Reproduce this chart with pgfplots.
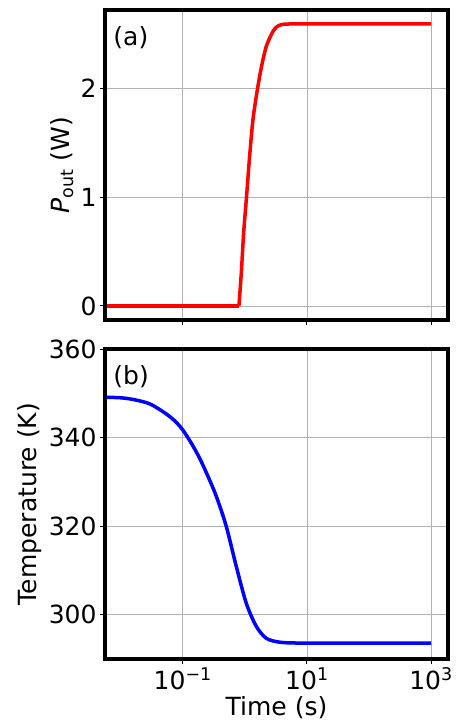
\documentclass[border=0pt]{standalone}
\usepackage{fontspec}
\setmainfont{DejaVu Sans}
\usepackage{pgfplots}
\pgfplotsset{compat=1.18}
\begin{document}
\begin{tikzpicture}
\useasboundingbox (-105pt,10pt) rectangle (351pt,-713pt);
\pgfplotsset{
  every axis/.append style={
    scale only axis, width=343pt, height=310pt,
    xmode=log, xmin=0.00558, xmax=1875,
    xtick={0.1,10,1000}, minor xtick={},
    xtick pos=bottom, ytick pos=left, tick align=outside,
    major tick length=5pt,
    every tick/.style={black, line width=1pt},
    grid=major, major grid style={color=black!30, line width=0.8pt},
    axis line style={line width=3.5pt},
    tick label style={font=\fontsize{25}{30}\selectfont},
    label style={font=\fontsize{25}{30}\selectfont},
    /pgf/number format/assume math mode=true,
  }
}
\begin{axis}[
  at={(0,0)}, anchor=north west,
  ymin=-0.1295, ymax=2.7195,
  ytick={0,1,2},
  xticklabels={,,},
  ylabel={\textit{P}\textsubscript{out} (W)},
]
\addplot[red, line width=3.5pt] coordinates {
(0.00594,0) (0.803,0)
};
\addplot[red, line width=3.5pt, smooth, tension=0.4] coordinates {
(0.803,0) (0.876,0.30) (0.955,0.668) (1.054,0.974) (1.192,1.372)
(1.348,1.709) (1.526,1.923) (1.726,2.107) (1.952,2.26) (2.208,2.383)
(2.498,2.459) (2.826,2.521) (3.197,2.561) (3.846,2.585) (5.24,2.591) (20,2.591) (1000,2.591)
};
\node[anchor=north west, inner sep=0pt, font=\fontsize{25}{30}\selectfont] at (rel axis cs:0.024,0.946) {(a)};
\end{axis}
\begin{axis}[
  at={(0,-339pt)}, anchor=north west,
  ymin=290, ymax=360,
  ytick={300,320,340,360},
  xticklabels={10\textsuperscript{−1},10\textsuperscript{1},10\textsuperscript{3}},
  xlabel={Time (s)},
  ylabel={Temperature (K)},
]
\addplot[blue, line width=3.5pt, smooth, tension=0.5] coordinates {
(0.00594,349.08) (0.00972,349.0) (0.0159,348.6) (0.0295,347.6) (0.0547,345.3)
(0.0791,343.4) (0.1013,341.6) (0.1377,338.7) (0.1875,335.3) (0.2554,331.2)
(0.3477,326.7) (0.5028,319.9) (0.7278,310.9) (1.054,302.6) (1.526,297.4)
(2.208,294.7) (3.615,293.8) (7.58,293.6) (30,293.6) (1000,293.6)
};
\node[anchor=north west, inner sep=0pt, font=\fontsize{25}{30}\selectfont] at (rel axis cs:0.024,0.946) {(b)};
\end{axis}
\end{tikzpicture}
\end{document}
